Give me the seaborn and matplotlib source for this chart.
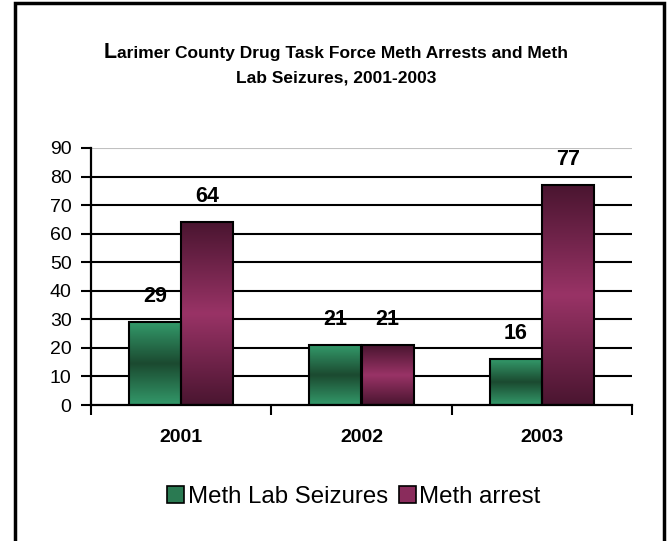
import numpy as np
import pandas as pd
import matplotlib
matplotlib.use("Agg")
import matplotlib.pyplot as plt
from matplotlib.patches import Rectangle, Patch
from matplotlib.colors import LinearSegmentedColormap
import seaborn as sns

# Data
years = ["2001", "2002", "2003"]
lab_seizures = [29, 21, 16]
meth_arrests = [64, 21, 77]
series_names = ["Meth Lab Seizures", "Meth arrest"]

df = pd.DataFrame({
    "year": years * 2,
    "count": lab_seizures + meth_arrests,
    "series": [series_names[0]] * 3 + [series_names[1]] * 3,
})

sns.set_style("white")
plt.rcParams["font.family"] = ["Liberation Sans", "DejaVu Sans"]
for key in ["text.color", "axes.labelcolor", "xtick.color", "ytick.color"]:
    plt.rcParams[key] = "black"

fig = plt.figure(figsize=(6.72, 5.41), dpi=100)
ax = fig.add_axes([91 / 672, 136 / 541, 541 / 672, 257 / 541])

sns.barplot(data=df, x="year", y="count", hue="series", ax=ax,
            palette=["#339966", "#993366"], width=0.58, gap=0,
            edgecolor="black", linewidth=1.5, legend=False)

# vertical gradient fills, clipped to each bar
cmaps = {
    0: LinearSegmentedColormap.from_list("g", ["#33996a", "#1b4a30", "#33996a"]),
    1: LinearSegmentedColormap.from_list("p", ["#4a1530", "#993366", "#4a1530"]),
}
grad = np.linspace(0, 1, 256).reshape(-1, 1)
for i, bar in enumerate(list(ax.patches)):
    s = i // 3
    x0, y0 = bar.get_x(), bar.get_y()
    w, h = bar.get_width(), bar.get_height()
    im = ax.imshow(grad, cmap=cmaps[s], aspect="auto",
                   extent=[x0, x0 + w, y0, y0 + h], zorder=2, origin="lower")
    im.set_clip_path(bar)
    bar.set_facecolor("none")
    bar.set_zorder(2.5)
    ax.text(x0 + w / 2, y0 + h + 9, str(int(round(h))), ha="center", va="center",
            fontsize=15.5, fontweight="bold", zorder=0.4)

ax.set_xlim(-0.5, 2.5)
ax.set_ylim(0, 90)

# gridlines
ax.hlines(range(10, 90, 10), -0.5, 2.5, colors="black", linewidth=1.5, zorder=0.5)
ax.hlines(90, -0.5, 2.5, colors="#c0c0c0", linewidth=0.8, zorder=0.5)

for side in ["top", "right"]:
    ax.spines[side].set_visible(False)
for side in ["left", "bottom"]:
    ax.spines[side].set_linewidth(1.6)
    ax.spines[side].set_color("black")

ax.set_yticks(range(0, 100, 10))
ax.tick_params(axis="y", which="major", left=True, direction="out", length=7,
               width=1.5, labelsize=14, pad=7)
ax.set_xticks([0, 1, 2])
ax.set_xticklabels(years, fontsize=14, fontweight="bold")
ax.tick_params(axis="x", which="major", bottom=False, pad=14)
ax.set_xticks([-0.5, 0.5, 1.5, 2.5], minor=True)
ax.tick_params(axis="x", which="minor", bottom=True, direction="out", length=7, width=1.5)
ax.set_xlabel("")
ax.set_ylabel("")

# title, first letter a bit larger
renderer = fig.canvas.get_renderer()
t_big = fig.text(0, 0, "L", fontsize=15.5, fontweight="bold")
t_rest = fig.text(0, 0, "arimer County Drug Task Force Meth Arrests and Meth",
                  fontsize=12.5, fontweight="bold")
w_big = t_big.get_window_extent(renderer).width / 672
w_rest = t_rest.get_window_extent(renderer).width / 672
x_start = 0.5 - (w_big + w_rest) / 2
base_y = 1 - 58 / 541
t_big.set_position((x_start, base_y))
t_big.set_va("baseline")
t_rest.set_position((x_start + w_big, base_y))
t_rest.set_va("baseline")
fig.text(0.5, 1 - 78 / 541, "Lab Seizures, 2001-2003",
         ha="center", va="center", fontsize=12.5, fontweight="bold")

handles = [Patch(facecolor="#2a7a52", edgecolor="black", linewidth=1.2),
           Patch(facecolor="#8a2c5c", edgecolor="black", linewidth=1.2)]
fig.legend(handles, series_names, loc="center", bbox_to_anchor=(354 / 672, 1 - 497 / 541),
           ncol=2, frameon=False, fontsize=17.3, handlelength=0.7, handleheight=0.7,
           handletextpad=0.15, columnspacing=0.45)

fig.patches.append(Rectangle((15 / 672, -0.05), 649 / 672, 1.05 - 3 / 541,
                             transform=fig.transFigure, fill=False,
                             edgecolor="black", linewidth=2.5))

fig.savefig("out.png", dpi=100)
